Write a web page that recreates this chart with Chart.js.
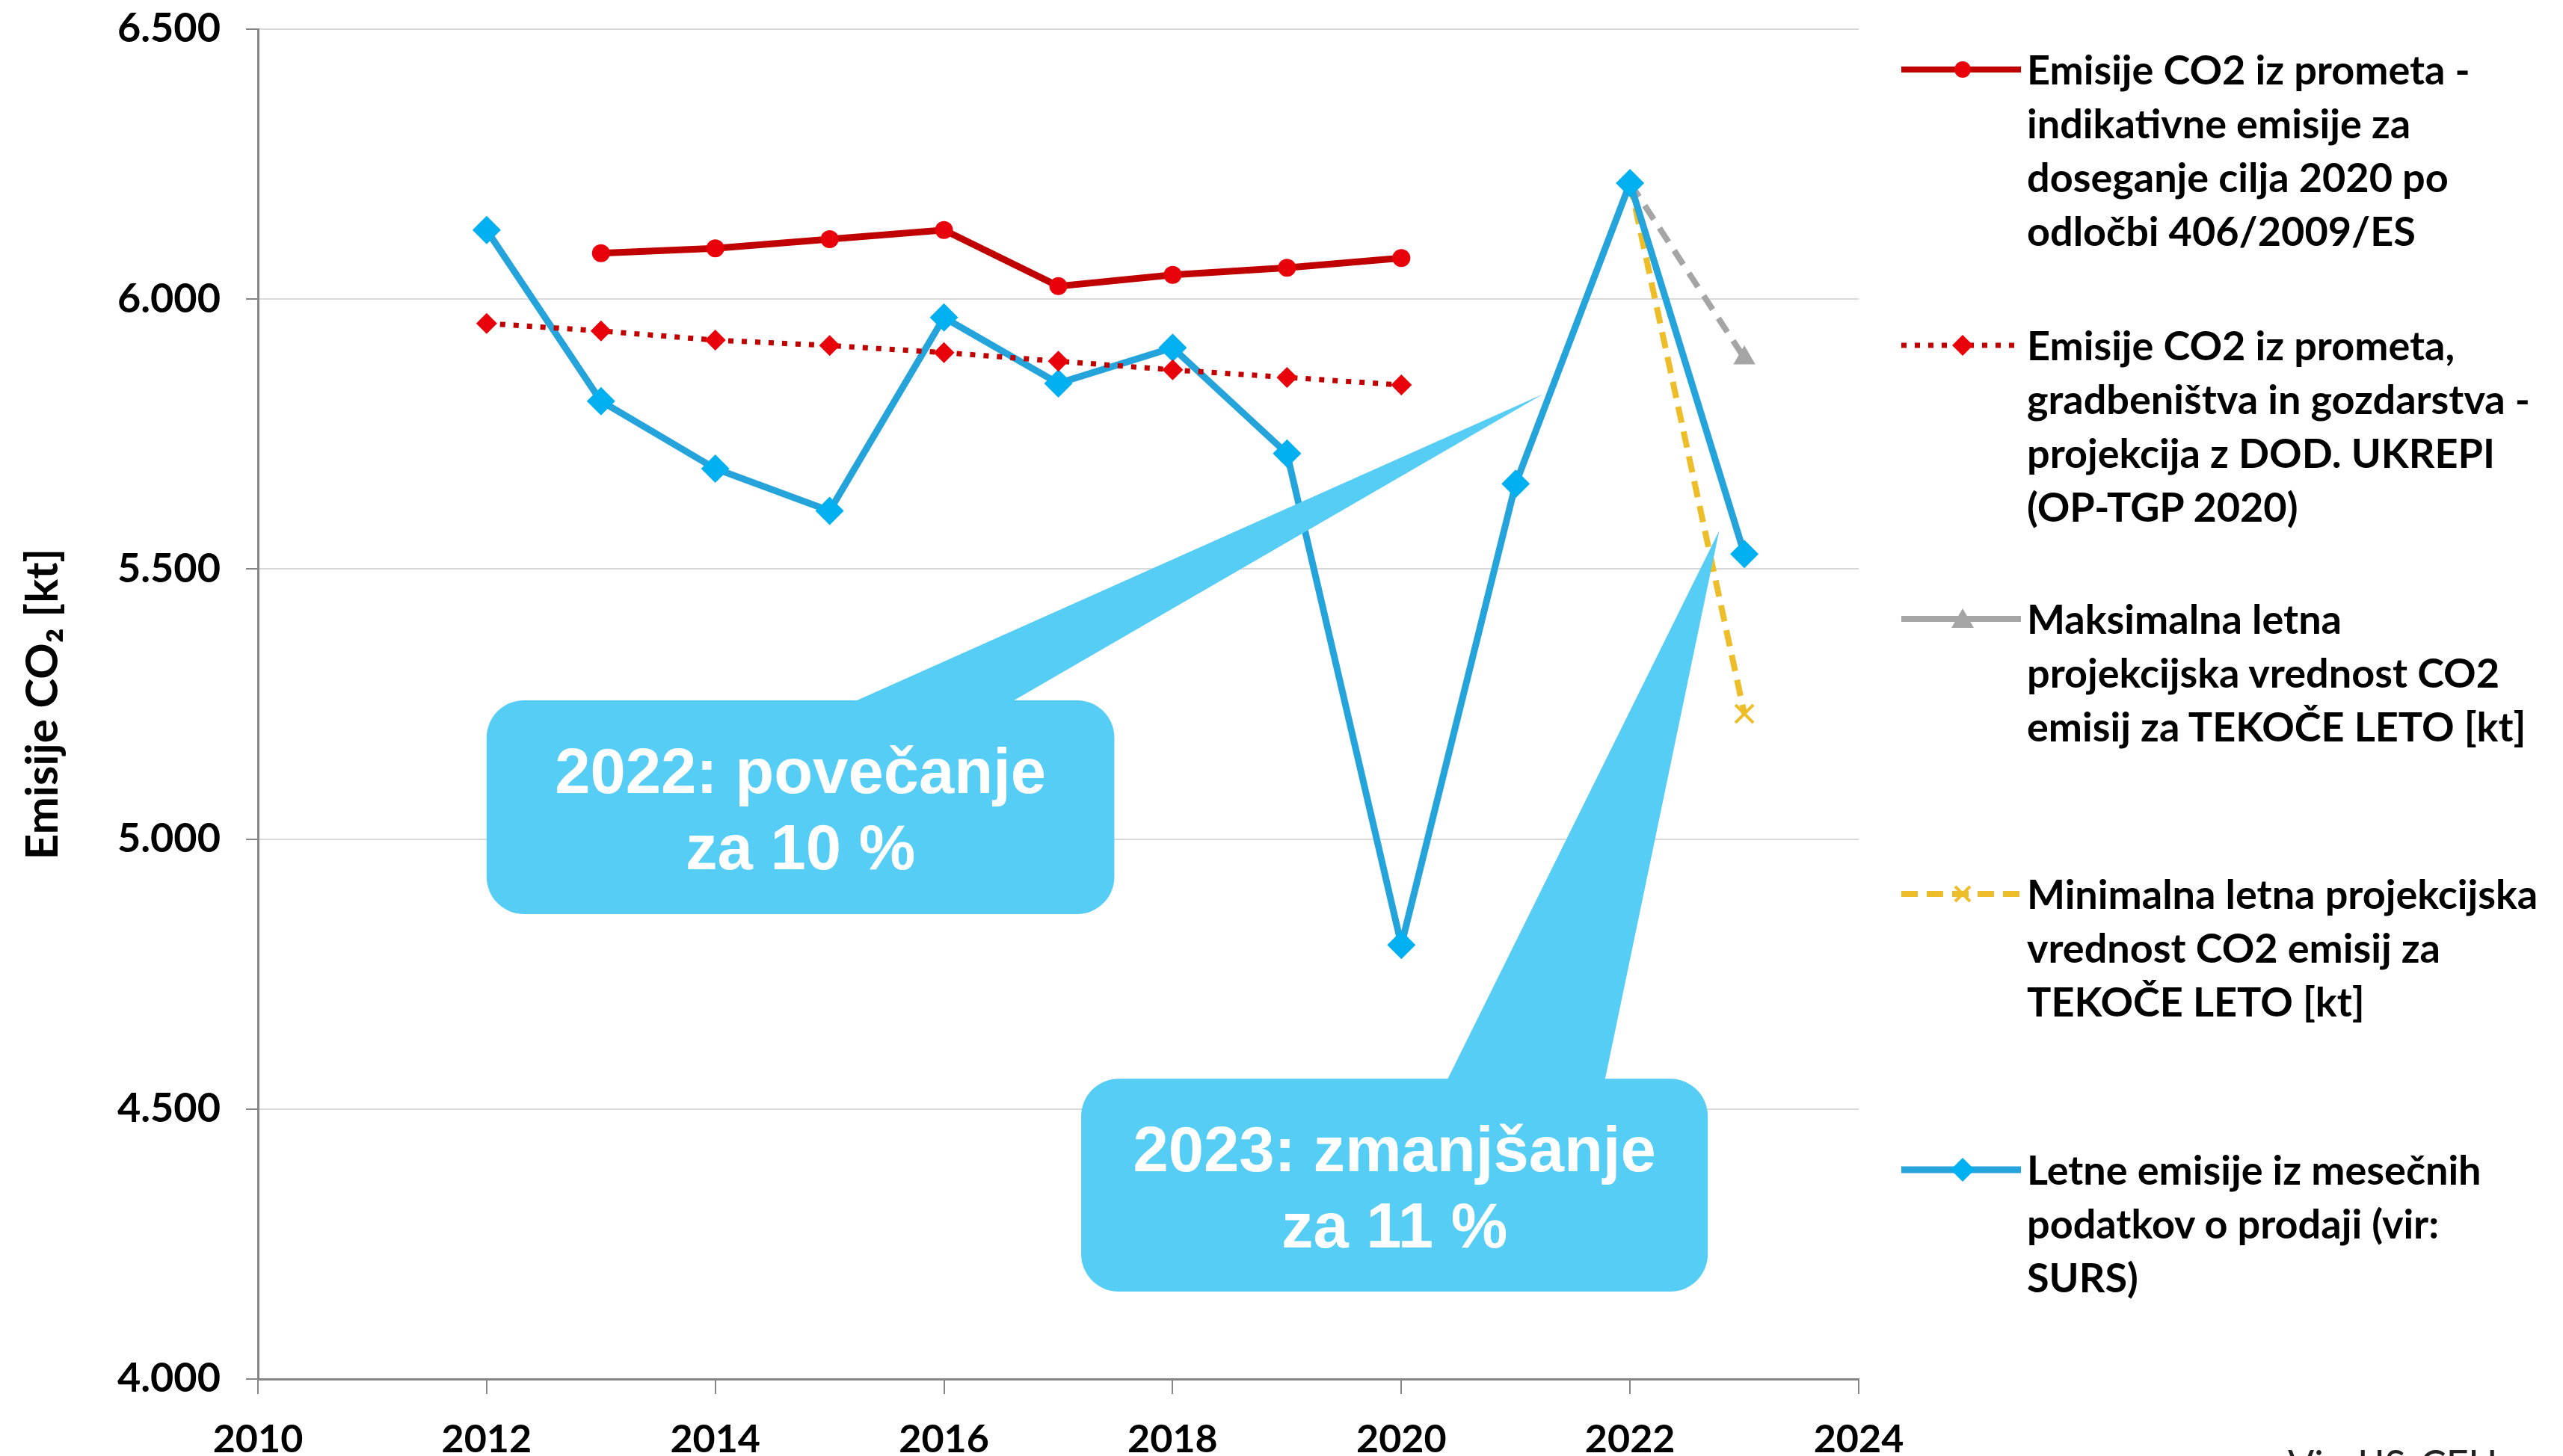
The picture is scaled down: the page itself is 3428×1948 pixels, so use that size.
<!DOCTYPE html>
<html>
<head>
<meta charset="utf-8">
<script src="https://cdn.jsdelivr.net/npm/chart.js@4/dist/chart.umd.min.js"></script>
<style>
	html, body { margin: 0; padding: 0; background: #fff; overflow: hidden; }
	#wrap { position: relative; width: 3428px; height: 1948px; }
	#chart { position: absolute; left: 0; top: 0; }
	.legend-item { position: absolute; left: 2543px; }
	.legend-item svg { position: absolute; left: 0; }
	.legend-text {
		position: absolute; left: 168px; white-space: pre;
		font-family: Lato, "Open Sans", sans-serif; font-weight: bold;
		font-size: 54px; line-height: 72px; color: #000;
	}
	#source {
		position: absolute; left: 3060px; top: 1932px;
		font-family: Lato, "Open Sans", sans-serif; font-size: 52px; line-height: 1; color: #222;
	}
</style>
</head>
<body>
<div id="wrap">
	<canvas id="chart" width="3428" height="1948"></canvas>
	<div id="legend"></div>
	<div id="source">Vir: IJS-CEU</div>
</div>
<script>
// Indikativne emisije (odločba 406/2009/ES)
const targetYears = [2013, 2014, 2015, 2016, 2017, 2018, 2019, 2020]
const targetValues = [6085, 6094, 6111, 6128, 6024, 6045, 6058, 6076]

// Projekcija z DOD. UKREPI (OP-TGP 2020)
const projectionYears = [2012, 2013, 2014, 2015, 2016, 2017, 2018, 2019, 2020]
const projectionValues = [5955, 5941, 5924, 5914, 5901, 5885, 5869, 5855, 5841]

// Letne emisije iz mesečnih podatkov o prodaji
const salesYears = [2012, 2013, 2014, 2015, 2016, 2017, 2018, 2019, 2020, 2021, 2022, 2023]
const salesValues = [6128, 5811, 5686, 5608, 5966, 5844, 5910, 5714, 4804, 5658, 6215, 5528]

// Maks. / min. projekcijska vrednost za tekoče leto
const maxYears = [2022, 2023]
const maxValues = [6215, 5891]
const minYears = [2022, 2023]
const minValues = [6215, 5232]

const xTicks = [2010, 2012, 2014, 2016, 2018, 2020, 2022, 2024]
const yTicks = [4000, 4500, 5000, 5500, 6000, 6500]

const labels = [
	'Emisije CO2 iz prometa -\nindikativne emisije za\ndoseganje cilja 2020 po\nodločbi 406/2009/ES',
	'Emisije CO2 iz prometa,\ngradbeništva in gozdarstva -\nprojekcija z DOD. UKREPI\n(OP-TGP 2020)',
	'Maksimalna letna\nprojekcijska vrednost CO2\nemisij za TEKOČE LETO [kt]',
	'Minimalna letna projekcijska\nvrednost CO2 emisij za\nTEKOČE LETO [kt]',
	'Letne emisije iz mesečnih\npodatkov o prodaji (vir:\nSURS)',
]

const callouts = [
	{ text: ['2022: povečanje', 'za 10 %'], box: [2012.0, 2017.49, 5257, 4861], base: [2015.21, 2016.59], tip: [2021.24, 5824] },
	{ text: ['2023: zmanjšanje', 'za 11 %'], box: [2017.2, 2022.68, 4556, 4162], base: [2020.4, 2021.78], tip: [2022.78, 5571] },
]

const toPoints = (xs, ys) => xs.map((x, i) => ({ x, y: ys[i] }))
const fmt = (v) => String(v).replace(/\B(?=(\d{3})+(?!\d))/g, '.')
const font = 'Lato, "Open Sans", sans-serif'
const calloutColor = '#56CDF5'

const calloutPlugin = {
	id: 'callouts',
	afterDatasetsDraw(chart) {
		const { ctx, scales } = chart
		const px = (v) => scales.x.getPixelForValue(v)
		const py = (v) => scales.y.getPixelForValue(v)
		ctx.save()
		callouts.forEach((c) => {
			const l = px(c.box[0]), r = px(c.box[1]), t = py(c.box[2]), b = py(c.box[3])
			ctx.fillStyle = calloutColor
			ctx.beginPath()
			ctx.moveTo(px(c.base[0]), t + 2)
			ctx.lineTo(px(c.tip[0]), py(c.tip[1]))
			ctx.lineTo(px(c.base[1]), t + 2)
			ctx.closePath()
			ctx.fill()
			ctx.beginPath()
			ctx.roundRect(l, t, r - l, b - t, 50)
			ctx.fill()
			ctx.fillStyle = '#fff'
			ctx.font = 'bold 85px "Liberation Sans", Arial, sans-serif'
			ctx.textAlign = 'center'
			ctx.textBaseline = 'alphabetic'
			ctx.fillText(c.text[0], (l + r) / 2, t + 124)
			ctx.fillText(c.text[1], (l + r) / 2, t + 226)
		})
		ctx.restore()
	},
}

const hideFirst = (size) => (ctx) => (ctx.dataIndex === 0 ? 0 : size)

const datasets = [
	{
		label: labels[1], data: toPoints(projectionYears, projectionValues), order: 0,
		borderColor: '#C00000', borderWidth: 7, borderDash: [7, 11],
		pointStyle: 'rectRot', pointRadius: 14, pointBackgroundColor: '#E8000B', pointBorderWidth: 0,
	},
	{
		label: labels[0], data: toPoints(targetYears, targetValues), order: 1,
		borderColor: '#C00000', borderWidth: 9,
		pointStyle: 'circle', pointRadius: 12, pointBackgroundColor: '#E8000B', pointBorderWidth: 0,
	},
	{
		label: labels[4], data: toPoints(salesYears, salesValues), order: 2,
		borderColor: '#24A4DA', borderWidth: 9,
		pointStyle: 'rectRot', pointRadius: 19, pointBackgroundColor: '#00B0F0', pointBorderWidth: 0,
	},
	{
		label: labels[3], data: toPoints(minYears, minValues), order: 3,
		borderColor: '#EEBE2A', borderWidth: 8, borderDash: [22, 12],
		pointStyle: 'crossRot', pointRadius: hideFirst(17), pointBorderColor: '#EEBE2A', pointBorderWidth: 4,
	},
	{
		label: labels[2], data: toPoints(maxYears, maxValues), order: 4,
		borderColor: '#A5A5A5', borderWidth: 8, borderDash: [22, 14],
		pointStyle: 'triangle', pointRadius: hideFirst(17), pointBackgroundColor: '#A5A5A5', pointBorderWidth: 0,
	},
]

new Chart(document.getElementById('chart'), {
	type: 'line',
	data: { datasets },
	plugins: [calloutPlugin],
	options: {
		responsive: false,
		animation: false,
		layout: { padding: { top: 39, right: 942, bottom: 0, left: 0 } },
		plugins: { legend: { display: false }, tooltip: { enabled: false } },
		elements: { line: { tension: 0, fill: false } },
		scales: {
			x: {
				type: 'linear', min: 2010, max: 2024,
				afterBuildTicks: (s) => { s.ticks = xTicks.map((v) => ({ value: v })) },
				afterFit: (s) => { s.height = 103 },
				border: { color: '#868686', width: 3 },
				grid: { drawOnChartArea: false, drawTicks: true, tickLength: 20, tickColor: '#868686', lineWidth: 2 },
				ticks: { color: '#000', padding: 30, font: { family: font, size: 52, weight: 'bold' }, callback: (v) => String(v) },
			},
			y: {
				min: 4000, max: 6500,
				afterBuildTicks: (s) => { s.ticks = yTicks.map((v) => ({ value: v })) },
				afterFit: (s) => {
					s.width = 345
					s.paddingTop = 0
					s.paddingBottom = 0
				},
				border: { color: '#868686', width: 3 },
				grid: { color: '#D9D9D9', lineWidth: 2, tickLength: 16, tickColor: '#868686' },
				ticks: { color: '#000', padding: 34, font: { family: font, size: 54, weight: 'bold' }, callback: (v) => fmt(v) },
				title: {
					display: true, text: 'Emisije CO₂ [kt]', color: '#000',
					padding: { top: 22, bottom: 0 },
					font: { family: font, size: 60, weight: 'bold', lineHeight: 1.2 },
				},
			},
		},
	},
})

// legend, drawn as html so the multi-line labels wrap like in the original
const legendSamples = [
	'<line x1="0" y1="20" x2="160" y2="20" stroke="#C00000" stroke-width="8"/><circle cx="82" cy="20" r="11" fill="#E8000B"/>',
	'<line x1="0" y1="20" x2="160" y2="20" stroke="#C00000" stroke-width="7" stroke-dasharray="7 11"/><path d="M82 6 L96 20 L82 34 L68 20 Z" fill="#E8000B"/>',
	'<line x1="0" y1="20" x2="160" y2="20" stroke="#A5A5A5" stroke-width="8"/><path d="M82 6 L97 32 L67 32 Z" fill="#A5A5A5"/>',
	'<line x1="0" y1="20" x2="160" y2="20" stroke="#EEBE2A" stroke-width="8" stroke-dasharray="22 12"/><path d="M72 10 L92 30 M92 10 L72 30" stroke="#EEBE2A" stroke-width="4"/>',
	'<line x1="0" y1="20" x2="160" y2="20" stroke="#24A4DA" stroke-width="9"/><path d="M82 4 L98 20 L82 36 L66 20 Z" fill="#00B0F0"/>',
]
const legendCenters = [93, 462, 828, 1196, 1565]
const legend = document.getElementById('legend')
labels.forEach((label, idx) => {
	const item = document.createElement('div')
	item.className = 'legend-item'
	item.style.top = (legendCenters[idx] - 36) + 'px'
	item.innerHTML = '<svg width="160" height="40" style="top:16px">' + legendSamples[idx] + '</svg>'
	const text = document.createElement('div')
	text.className = 'legend-text'
	text.textContent = label
	item.appendChild(text)
	legend.appendChild(item)
})
</script>
</body>
</html>
